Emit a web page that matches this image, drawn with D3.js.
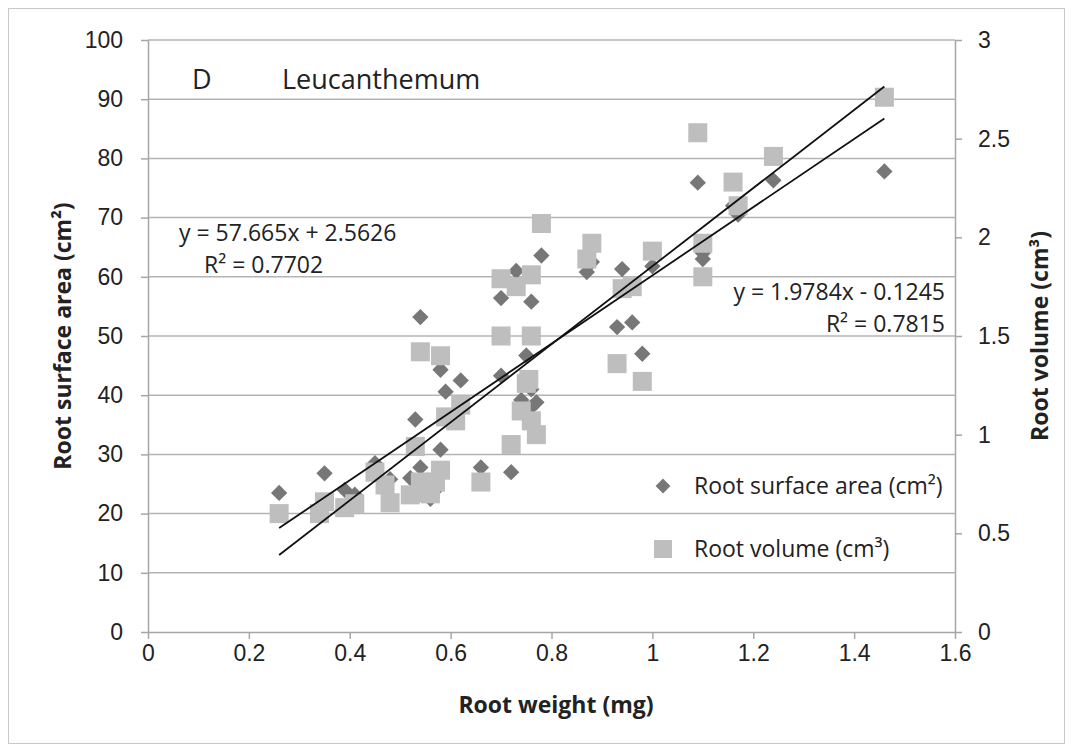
<!DOCTYPE html>
<html lang="en">
<head>
<meta charset="utf-8">
<title>Leucanthemum root scatter</title>
<script src="https://d3js.org/d3.v7.min.js"></script>
<style>
  body { margin: 0; background: #fff; }
  svg { font-family: "Open Sans", "Noto Sans", sans-serif; display: block; }
  .tick text { fill: #222; font-size: 23px; }
  .axisTitle { font-weight: bold; font-size: 23px; fill: #222; }
</style>
</head>
<body>
<script>
// root weight (mg) for each sample, with the two measured values
var rootWeight = [0.26, 0.34, 0.35, 0.39, 0.41, 0.45, 0.47, 0.48, 0.52, 0.53, 0.54, 0.54, 0.545, 0.56, 0.57,
  0.58, 0.58, 0.59, 0.61, 0.62, 0.66, 0.70, 0.70, 0.72, 0.73, 0.74, 0.75, 0.755, 0.76, 0.76, 0.76, 0.77, 0.78,
  0.87, 0.88, 0.93, 0.94, 0.96, 0.98, 1.00, 1.09, 1.10, 1.10, 1.16, 1.17, 1.24, 1.46];
var surfaceArea = [23.5, 20.5, 26.8, 24.0, 23.2, 28.5, 24.8, 25.8, 26.0, 35.9, 27.8, 53.2, 23.5, 22.5, 24.0,
  30.8, 44.3, 40.6, 36.0, 42.5, 27.8, 56.4, 43.3, 27.0, 61.0, 39.2, 46.7, 42.5, 55.8, 41.0, 38.0, 38.8, 63.6,
  60.8, 62.5, 51.5, 61.3, 52.3, 47.0, 61.8, 75.9, 63.0, 64.0, 72.0, 70.5, 76.3, 77.8];
var rootVolume = [0.60, 0.60, 0.66, 0.63, 0.65, 0.81, 0.745, 0.655, 0.695, 0.94, 0.76, 1.42, 0.705, 0.70, 0.76,
  0.82, 1.40, 1.09, 1.07, 1.15, 0.76, 1.79, 1.50, 0.95, 1.75, 1.12, 1.26, 1.28, 1.50, 1.81, 1.07, 1.00, 2.07,
  1.89, 1.97, 1.36, 1.74, 1.75, 1.27, 1.93, 2.53, 1.97, 1.80, 2.28, 2.16, 2.41, 2.71];

// trendlines as printed on the chart
var areaFit = { slope: 57.665, intercept: 2.5626, r2: "0.7702" };
var volumeFit = { slope: 1.9784, intercept: -0.1245, r2: "0.7815" };

var xTicks = [0, 0.2, 0.4, 0.6, 0.8, 1, 1.2, 1.4, 1.6];
var leftTicks = [0, 10, 20, 30, 40, 50, 60, 70, 80, 90, 100];
var rightTicks = [0, 0.5, 1, 1.5, 2, 2.5, 3];

var w = 1073, h = 751;
var plotL = 148, plotR = 955, plotT = 40, plotB = 632;

var svg = d3.select("body").append("svg").attr("width", w).attr("height", h);

// outer chart frame
svg.append("rect")
  .attr("x", 8.5).attr("y", 8.5).attr("width", 1056).attr("height", 735)
  .attr("fill", "none").attr("stroke", "#c8c8c8").attr("stroke-width", 1);

var xScale = d3.scaleLinear().domain([0, 1.6]).range([plotL, plotR]);
var yArea = d3.scaleLinear().domain([0, 100]).range([plotB, plotT]);
var yVol = d3.scaleLinear().domain([0, 3]).range([plotB, plotT]);

// gridlines
svg.append("g").selectAll("line")
  .data(leftTicks.slice(1))
  .enter().append("line")
  .attr("x1", plotL).attr("x2", plotR)
  .attr("y1", function (d) { return yArea(d); })
  .attr("y2", function (d) { return yArea(d); })
  .attr("stroke", "#b4b4b4").attr("stroke-width", 1.5);

var samples = rootWeight.map(function (d, i) {
  return { w: d, a: surfaceArea[i], v: rootVolume[i] };
});

// diamonds for surface area
var diamond = d3.symbol().type(d3.symbolDiamond2).size(170);
svg.append("g").selectAll("path")
  .data(samples)
  .enter().append("path")
  .attr("d", diamond)
  .attr("transform", function (d) { return "translate(" + xScale(d.w) + "," + yArea(d.a) + ")"; })
  .attr("fill", "#777777");

// squares for volume
var sq = 19;
svg.append("g").selectAll("rect")
  .data(samples)
  .enter().append("rect")
  .attr("x", function (d) { return xScale(d.w) - sq / 2; })
  .attr("y", function (d) { return yVol(d.v) - sq / 2; })
  .attr("width", sq).attr("height", sq)
  .attr("fill", "#bebebe");

// trendlines between min and max weight
var wExtent = d3.extent(rootWeight);
svg.append("line")
  .attr("x1", xScale(wExtent[0])).attr("x2", xScale(wExtent[1]))
  .attr("y1", yArea(areaFit.slope * wExtent[0] + areaFit.intercept))
  .attr("y2", yArea(areaFit.slope * wExtent[1] + areaFit.intercept))
  .attr("stroke", "#111").attr("stroke-width", 1.8);
svg.append("line")
  .attr("x1", xScale(wExtent[0])).attr("x2", xScale(wExtent[1]))
  .attr("y1", yVol(volumeFit.slope * wExtent[0] + volumeFit.intercept))
  .attr("y2", yVol(volumeFit.slope * wExtent[1] + volumeFit.intercept))
  .attr("stroke", "#111").attr("stroke-width", 1.8);

// axes
var axisColor = "#a6a6a6";
function styleAxis(g) {
  g.select(".domain").attr("stroke", axisColor).attr("stroke-width", 1.5);
  g.selectAll(".tick line").attr("stroke", axisColor).attr("stroke-width", 1.5);
}

svg.append("g")
  .attr("transform", "translate(0," + plotB + ")")
  .call(d3.axisBottom(xScale).tickValues(xTicks).tickSize(7).tickSizeOuter(0).tickPadding(6).tickFormat(d3.format("")))
  .call(styleAxis);

svg.append("g")
  .attr("transform", "translate(" + plotL + ",0)")
  .call(d3.axisLeft(yArea).tickValues(leftTicks).tickSize(7).tickSizeOuter(0).tickPadding(18))
  .call(styleAxis);

svg.append("g")
  .attr("transform", "translate(" + plotR + ",0)")
  .call(d3.axisRight(yVol).tickValues(rightTicks).tickSize(7).tickSizeOuter(0).tickPadding(16).tickFormat(d3.format("")))
  .call(styleAxis);

svg.selectAll(".tick text").attr("font-family", null).attr("font-size", null);

// axis titles
svg.append("text").attr("class", "axisTitle")
  .attr("text-anchor", "middle")
  .attr("x", 556).attr("y", 713)
  .text("Root weight (mg)");

svg.append("text").attr("class", "axisTitle")
  .attr("text-anchor", "middle")
  .attr("transform", "translate(71," + ((plotT + plotB) / 2) + ") rotate(-90)")
  .text("Root surface area (cm²)");

svg.append("text").attr("class", "axisTitle")
  .attr("text-anchor", "middle")
  .attr("transform", "translate(1048," + ((plotT + plotB) / 2) + ") rotate(-90)")
  .text("Root volume (cm³)");

// panel label
svg.append("text").attr("x", 192).attr("y", 89).attr("font-size", 27).attr("fill", "#222").text("D");
svg.append("text").attr("x", 282).attr("y", 89).attr("font-size", 27).attr("fill", "#222").text("Leucanthemum");

// equations
var eqSize = 23;
svg.append("text").attr("x", 179).attr("y", 241).attr("font-size", eqSize).attr("fill", "#222")
  .text("y = " + areaFit.slope + "x + " + areaFit.intercept);
svg.append("text").attr("x", 204).attr("y", 273).attr("font-size", eqSize).attr("fill", "#222")
  .text("R² = " + areaFit.r2);
svg.append("text").attr("x", 945).attr("y", 300).attr("font-size", eqSize).attr("fill", "#222")
  .attr("text-anchor", "end")
  .text("y = " + volumeFit.slope + "x - " + Math.abs(volumeFit.intercept));
svg.append("text").attr("x", 945).attr("y", 332).attr("font-size", eqSize).attr("fill", "#222")
  .attr("text-anchor", "end")
  .text("R² = " + volumeFit.r2);

// legend
var legend = svg.append("g");
legend.append("path")
  .attr("d", d3.symbol().type(d3.symbolDiamond2).size(140))
  .attr("transform", "translate(663,486)")
  .attr("fill", "#777777");
legend.append("text").attr("x", 694).attr("y", 494).attr("font-size", 23).attr("fill", "#222")
  .text("Root surface area (cm²)");
legend.append("rect")
  .attr("x", 654).attr("y", 540).attr("width", 18).attr("height", 18)
  .attr("fill", "#bebebe");
legend.append("text").attr("x", 694).attr("y", 557).attr("font-size", 23).attr("fill", "#222")
  .text("Root volume (cm³)");
</script>
</body>
</html>
